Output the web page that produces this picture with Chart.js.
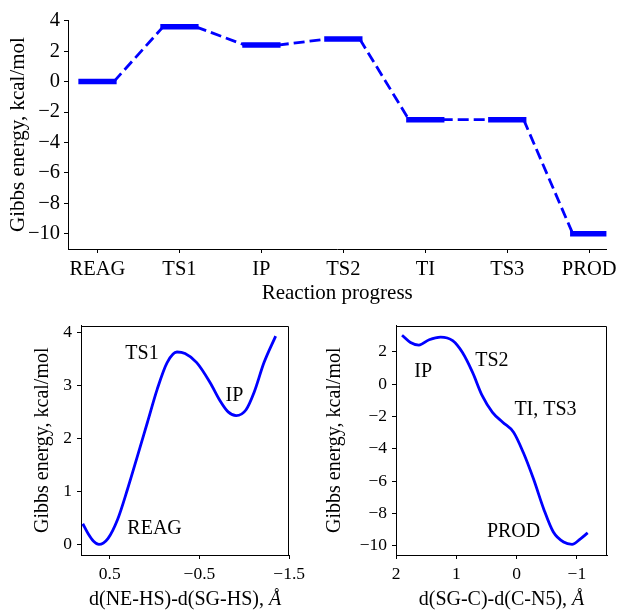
<!DOCTYPE html>
<html>
<head>
<meta charset="utf-8">
<script src="https://cdn.jsdelivr.net/npm/chart.js@4.4.0/dist/chart.umd.min.js"></script>
<style>
  html, body { margin: 0; padding: 0; background: #fff; }
  #page { position: relative; width: 621px; height: 613px; }
  .box { position: absolute; }
</style>
</head>
<body>
<div id="page">
  <div class="box" style="left:0;top:0;width:621px;height:310px"><canvas id="profile"></canvas></div>
  <div class="box" style="left:0;top:310px;width:310px;height:303px"><canvas id="scanA"></canvas></div>
  <div class="box" style="left:310px;top:310px;width:311px;height:303px"><canvas id="scanB"></canvas></div>
</div>
<script>
// energy profile
const stages = ["REAG", "TS1", "IP", "TS2", "TI", "TS3", "PROD"];
const energies = [0, 3.6, 2.4, 2.8, -2.5, -2.5, -10];
const profileTicks = [-10, -8, -6, -4, -2, 0, 2, 4];

// scan 1: proton transfer
const scanACoord = [0.80, 0.74, 0.68, 0.62, 0.52, 0.41, 0.30, 0.19, 0.08, -0.03, -0.14, -0.25,
  -0.34, -0.47, -0.62, -0.73, -0.82, -0.91, -1.02, -1.11, -1.22, -1.35];
const scanAEnergy = [0.39, 0.20, 0.06, 0.00, 0.11, 0.48, 1.05, 1.67, 2.30, 2.93, 3.43, 3.63,
  3.60, 3.43, 3.05, 2.71, 2.50, 2.43, 2.54, 2.87, 3.43, 3.93];
const scanAXTicks = [0.5, -0.5, -1.5];
const scanAYTicks = [0, 1, 2, 3, 4];

// scan 2: C-N bond breaking
const scanBCoord = [1.90, 1.76, 1.62, 1.45, 1.26, 1.06, 0.90, 0.73, 0.57, 0.40, 0.23, 0.05,
  -0.11, -0.28, -0.45, -0.61, -0.78, -0.92, -1.06, -1.18];
const scanBEnergy = [3.02, 2.57, 2.41, 2.74, 2.90, 2.68, 1.96, 0.72, -0.72, -1.75, -2.36, -2.98,
  -4.22, -5.86, -7.72, -9.15, -9.77, -9.91, -9.57, -9.20];
const scanBXTicks = [2, 1, 0, -1];
const scanBYTicks = [-10, -8, -6, -4, -2, 0, 2];

const notesA = [["TS1", 0.14, 3.59], ["IP", -0.89, 2.81], ["REAG", 0.0, 0.30]];
const notesB = [["IP", 1.55, 0.74], ["TS2", 0.41, 1.46], ["TI, TS3", -0.48, -1.62], ["PROD", 0.05, -9.14]];

const SERIF = "'Liberation Serif', 'Times New Roman', serif";
const BLUE = "#0000ff";
Chart.defaults.font.family = SERIF;
Chart.defaults.color = "#000";

const minus = v => String(v).replace("-", "\u2212");

// spines, axis titles and text notes
const decor = {
  id: "decor",
  afterDraw(chart, args, o) {
    const { ctx, chartArea: a, scales } = chart;
    ctx.save();
    ctx.fillStyle = "#000";
    if (o.frame) {
      ctx.strokeStyle = "#000";
      ctx.lineWidth = 1;
      ctx.beginPath();
      ctx.moveTo(Math.round(a.left) + 0.5, Math.round(a.top) + 0.5);
      ctx.lineTo(Math.round(a.right) - 0.5, Math.round(a.top) + 0.5);
      ctx.lineTo(Math.round(a.right) - 0.5, Math.round(a.bottom));
      ctx.stroke();
    }
    // x title, optional italic tail
    ctx.textBaseline = "middle";
    ctx.textAlign = "left";
    const parts = [[o.xTitle, "normal"]];
    if (o.xUnit) parts.push([o.xUnit, "italic"]);
    let total = 0;
    const widths = parts.map(([t, st]) => {
      ctx.font = `${st} ${o.titleSize}px ${SERIF}`;
      const w = ctx.measureText(t).width;
      total += w;
      return w;
    });
    let x = (a.left + a.right) / 2 - total / 2;
    parts.forEach(([t, st], i) => {
      ctx.font = `${st} ${o.titleSize}px ${SERIF}`;
      ctx.fillText(t, x, o.xTitleY);
      x += widths[i];
    });
    // y title
    ctx.font = `${o.titleSize}px ${SERIF}`;
    ctx.textAlign = "center";
    ctx.translate(o.yTitleX, (a.top + a.bottom) / 2);
    ctx.rotate(-Math.PI / 2);
    ctx.fillText(o.yTitle, 0, 0);
    ctx.setTransform(1, 0, 0, 1, 0, 0);
    // notes at data positions
    ctx.font = `${o.noteSize}px ${SERIF}`;
    (o.notes || []).forEach(([t, nx, ny]) => {
      ctx.fillText(t, scales.x.getPixelForValue(nx), scales.y.getPixelForValue(ny));
    });
    ctx.restore();
  }
};

function axis(min, max, ticks, size, pad, fmt, extra) {
  return Object.assign({
    type: "linear",
    min: min,
    max: max,
    afterBuildTicks: s => { s.ticks = ticks.map(v => ({ value: v })); },
    ticks: { font: { size: size }, padding: pad, autoSkip: false, maxRotation: 0, callback: fmt },
    grid: { drawOnChartArea: false, drawTicks: true, tickLength: 4, color: "#000" },
    border: { display: true, color: "#000", width: 1 }
  }, extra);
}

const base = {
  responsive: true,
  maintainAspectRatio: false,
  animation: false,
  events: [],
  plugins: { legend: { display: false }, tooltip: { enabled: false } }
};

// top: energy levels and dashed connectors
const halfLevel = 0.2;
const levelPts = [];
const linkPts = [];
energies.forEach((e, i) => {
  levelPts.push({ x: i - halfLevel, y: e }, { x: i + halfLevel, y: e }, { x: i + halfLevel, y: null });
  if (i < energies.length - 1) {
    linkPts.push({ x: i + halfLevel, y: e }, { x: i + 1 - halfLevel, y: energies[i + 1] },
      { x: i + 1 - halfLevel, y: null });
  }
});

new Chart(document.getElementById("profile"), {
  type: "line",
  data: {
    datasets: [
      { data: levelPts, borderColor: BLUE, borderWidth: 5.5, borderCapStyle: "square",
        pointRadius: 0, spanGaps: false, clip: 0 },
      { data: linkPts, borderColor: BLUE, borderWidth: 2.8, borderDash: [11, 5],
        pointRadius: 0, spanGaps: false, clip: 0 }
    ]
  },
  options: Object.assign({}, base, {
    layout: { padding: { left: 0, right: 14, top: 20, bottom: 0 } },
    scales: {
      x: axis(-0.36, 6.21, stages.map((s, i) => i), 20.5, 4, v => stages[v],
        { afterFit: s => { s.height = 61; } }),
      y: axis(-11, 4.05, profileTicks, 20.5, 4, minus, { afterFit: s => { s.width = 68; } })
    },
    plugins: Object.assign({}, base.plugins, {
      decor: { frame: false, xTitle: "Reaction progress", xTitleY: 293, yTitle: "Gibbs energy, kcal/mol",
        yTitleX: 18, titleSize: 21 }
    })
  }),
  plugins: [decor]
});

function scanChart(id, coords, energy, xr, yr, xTicks, yTicks, yWidth, padRight, xTitle, yTitleX, notes) {
  new Chart(document.getElementById(id), {
    type: "line",
    data: {
      datasets: [{
        data: coords.map((c, i) => ({ x: c, y: energy[i] })),
        borderColor: BLUE, borderWidth: 2.8, pointRadius: 0, cubicInterpolationMode: "monotone"
      }]
    },
    options: Object.assign({}, base, {
      layout: { padding: { left: 0, right: padRight, top: 15, bottom: 0 } },
      scales: {
        x: axis(xr[0], xr[1], xTicks, 17.5, 5, minus, { reverse: true, afterFit: s => { s.height = 58; } }),
        y: axis(yr[0], yr[1], yTicks, 17.5, 5, minus, { afterFit: s => { s.width = yWidth; } })
      },
      plugins: Object.assign({}, base.plugins, {
        decor: { frame: true, xTitle: xTitle, xUnit: "Å", xTitleY: 290, yTitle: "Gibbs energy, kcal/mol",
          yTitleX: yTitleX, titleSize: 20, noteSize: 20, notes: notes }
      })
    }),
    plugins: [decor]
  });
}

scanChart("scanA", scanACoord, scanAEnergy, [-1.5, 0.82], [-0.2, 4.13], scanAXTicks, scanAYTicks,
  81, 18, "d(NE-HS)-d(SG-HS), ", 43, notesA);
scanChart("scanB", scanBCoord, scanBEnergy, [-1.5, 2], [-10.57, 3.62], scanBXTicks, scanBYTicks,
  86, 14, "d(SG-C)-d(C-N5), ", 25, notesB);
</script>
</body>
</html>
